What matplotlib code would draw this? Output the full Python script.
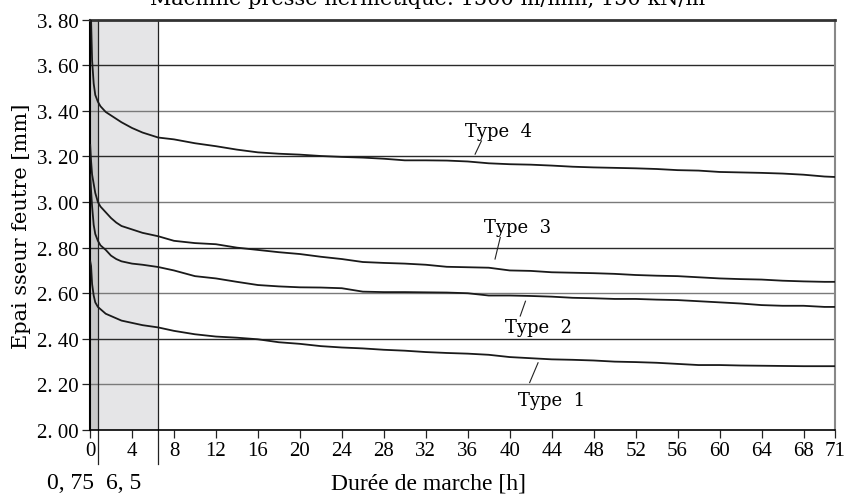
import numpy as np
import matplotlib
matplotlib.use('Agg')
import matplotlib.pyplot as plt

plt.rcParams['font.family'] = ['DejaVu Serif']

# Durée de marche [h]
heures = [0.02, 0.1, 0.2, 0.35, 0.5, 0.75, 1.0, 1.5, 2, 2.5, 3, 4, 5, 6.5, 8, 10,
          12, 14, 16, 18, 20, 22, 24, 26, 28, 30, 32, 34, 36, 38, 40, 42, 44, 46,
          48, 50, 52, 54, 56, 58, 60, 62, 64, 66, 68, 70, 71]

# Epaisseur feutre [mm]
type1 = [2.74, 2.72, 2.64, 2.59, 2.56, 2.54, 2.53, 2.51, 2.50, 2.49, 2.48, 2.47,
         2.46, 2.45, 2.435, 2.42, 2.41, 2.405, 2.398, 2.385, 2.378, 2.368, 2.362,
         2.358, 2.352, 2.348, 2.342, 2.338, 2.335, 2.33, 2.32, 2.315, 2.31, 2.308,
         2.305, 2.30, 2.298, 2.295, 2.29, 2.285, 2.285, 2.283, 2.282, 2.281, 2.28,
         2.28, 2.28]
type2 = [3.12, 3.05, 2.98, 2.90, 2.86, 2.83, 2.81, 2.79, 2.765, 2.75, 2.74, 2.73,
         2.725, 2.715, 2.70, 2.675, 2.665, 2.65, 2.636, 2.63, 2.626, 2.625, 2.622,
         2.607, 2.605, 2.605, 2.604, 2.603, 2.60, 2.59, 2.59, 2.588, 2.585, 2.58,
         2.578, 2.575, 2.575, 2.572, 2.57, 2.565, 2.56, 2.555, 2.548, 2.545, 2.545,
         2.54, 2.54]
type3 = [3.25, 3.18, 3.12, 3.08, 3.04, 3.00, 2.98, 2.955, 2.93, 2.91, 2.895, 2.88,
         2.865, 2.85, 2.83, 2.82, 2.815, 2.80, 2.79, 2.78, 2.772, 2.76, 2.75, 2.737,
         2.733, 2.73, 2.725, 2.716, 2.714, 2.712, 2.70, 2.698, 2.692, 2.69, 2.688,
         2.685, 2.68, 2.677, 2.675, 2.67, 2.665, 2.662, 2.66, 2.655, 2.652, 2.65, 2.65]
type4 = [3.95, 3.80, 3.62, 3.52, 3.47, 3.44, 3.42, 3.395, 3.38, 3.365, 3.35, 3.325,
         3.305, 3.283, 3.275, 3.258, 3.245, 3.23, 3.218, 3.212, 3.208, 3.202, 3.198,
         3.195, 3.19, 3.183, 3.183, 3.182, 3.178, 3.17, 3.166, 3.164, 3.16, 3.155,
         3.152, 3.15, 3.148, 3.145, 3.14, 3.138, 3.132, 3.13, 3.128, 3.125, 3.12,
         3.112, 3.11]

noms = ['Type 1', 'Type 2', 'Type 3', 'Type 4']
# position du texte (h, mm) et du trait de rappel
pos_texte = [(44.0, 2.13), (42.7, 2.45), (40.7, 2.89), (38.9, 3.31)]
trait_debut = [(42.7, 2.295), (41.5, 2.565), (39.1, 2.845), (37.3, 3.268)]
trait_fin = [(41.9, 2.208), (41.0, 2.50), (38.6, 2.75), (36.7, 3.21)]

xticks = [0, 4, 8, 12, 16, 20, 24, 28, 32, 36, 40, 44, 48, 52, 56, 60, 64, 68, 71]
yticks = [2.0, 2.2, 2.4, 2.6, 2.8, 3.0, 3.2, 3.4, 3.6, 3.8]

fig = plt.figure(figsize=(8.46, 5.02), dpi=100)
ax = fig.add_axes([0.1064, 0.1414, 0.8806, 0.8174])

# zones grisées
ax.axvspan(0, 0.75, color='#c9c9c9', lw=0, zorder=0)
ax.axvspan(0.75, 6.5, color='#e5e5e7', lw=0, zorder=0)

# grille horizontale alternée gris / noir
for i, v in enumerate(yticks[1:-1]):
    col = '#7a7a7a' if i % 2 == 0 else '#2a2a2a'
    ax.axhline(v, color=col, lw=1.0, zorder=1)

# traits verticaux à 0,75 et 6,5 h (prolongés sous l'axe)
for xv in [0.75, 6.5]:
    ax.plot([xv, xv], [1.85, 3.80], color='#222222', lw=0.9, clip_on=False, zorder=2)

for y in [type1, type2, type3, type4]:
    ax.plot(heures, y, color='#1a1a1a', lw=1.3, zorder=3)

for nom, pt, d, f in zip(noms, pos_texte, trait_debut, trait_fin):
    ax.text(pt[0], pt[1], nom.replace(' ', '  '), ha='center', va='center', fontsize=13)
    ax.plot([d[0], f[0]], [d[1], f[1]], color='#222222', lw=0.8, zorder=4)

ax.set_xlim(0, 71)
ax.set_ylim(2.0, 3.8)
ax.set_xticks(xticks)
ax.set_xticklabels([str(t) for t in xticks], fontsize=15, family='Liberation Serif')
ax.set_yticks(yticks)
ax.set_yticklabels([('%.2f' % v).replace('.', '. ') for v in yticks], fontsize=15,
                   family='Liberation Serif')
ax.tick_params(direction='out', length=6, width=0.9, color='#222222', pad=2)

ax.spines['top'].set_linewidth(2.0)
ax.spines['top'].set_color('#333333')
ax.spines['right'].set_color('#888888')
ax.spines['right'].set_linewidth(1.5)
ax.spines['left'].set_linewidth(1.5)
ax.spines['bottom'].set_linewidth(1.2)

ax.set_ylabel('Epai sseur feutre [mm]', fontsize=15, labelpad=4)
fig.text(0.506, 0.025, 'Durée de marche [h]', ha='center', va='baseline', fontsize=17,
         family='Liberation Serif')
fig.text(0.083, 0.025, '0, 75', ha='center', va='baseline', fontsize=17,
         family='Liberation Serif')
fig.text(0.146, 0.025, '6, 5', ha='center', va='baseline', fontsize=17,
         family='Liberation Serif')
fig.text(0.506, 0.99, 'Machine presse hermétique: 1500 m/min, 150 kN/m',
         ha='center', va='baseline', fontsize=15)

fig.savefig('out.png', dpi=100)
